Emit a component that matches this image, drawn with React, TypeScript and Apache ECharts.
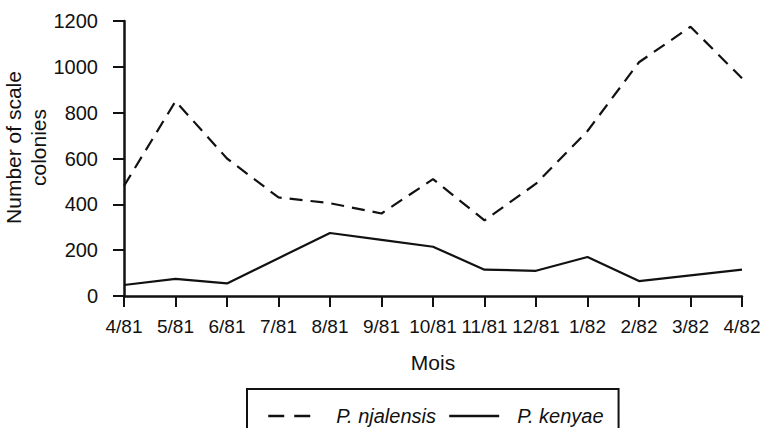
import React, { useEffect, useRef } from "react";
import * as echarts from "echarts";

const months = ["4/81", "5/81", "6/81", "7/81", "8/81", "9/81", "10/81", "11/81", "12/81", "1/82", "2/82", "3/82", "4/82"];
const njalensis = [480, 850, 600, 430, 405, 360, 510, 330, 490, 720, 1020, 1175, 950];
const kenyae = [48, 75, 55, 165, 275, 245, 215, 115, 110, 170, 65, 90, 115];
const yTicks = { min: 0, max: 1200, interval: 200 };

const FONT = "'Liberation Sans', Arial, Helvetica, sans-serif";
const INK = "#111";

export default function App() {
  const ref = useRef<HTMLDivElement>(null);
  useEffect(() => {
    if (!ref.current) return;
    const chart = echarts.init(ref.current, undefined, { renderer: "svg" });
    chart.setOption({
      animation: false,
      backgroundColor: "#fff",
      textStyle: { fontFamily: FONT, color: INK },
      grid: {
        left: 124,
        right: 18,
        top: 21,
        bottom: 132,
        containLabel: false,
        outerBoundsMode: "none",
      },
      legend: {
        left: 247,
        top: 389,
        itemWidth: 50,
        itemHeight: 14,
        itemGap: 12,
        padding: [17, 15, 20, 20],
        borderColor: INK,
        borderWidth: 2,
        itemStyle: { opacity: 0 },
        textStyle: {
          fontFamily: FONT,
          fontSize: 20,
          fontStyle: "italic",
          color: INK,
          lineHeight: 20,
          padding: [0, 0, 0, 13],
        },
        data: [
          { name: "P. njalensis", lineStyle: { color: INK, width: 2.5, type: [16, 10] } },
          { name: "P. kenyae", lineStyle: { color: INK, width: 2.5, type: "solid" } },
        ],
      },
      xAxis: {
        type: "category",
        data: months,
        boundaryGap: false,
        name: "Mois",
        nameLocation: "middle",
        nameGap: 56,
        nameTextStyle: { fontFamily: FONT, fontSize: 21, color: INK },
        axisLine: { lineStyle: { color: INK, width: 2.5 } },
        axisTick: { length: 11, alignWithLabel: true, lineStyle: { color: INK, width: 2 } },
        axisLabel: { fontFamily: FONT, fontSize: 19, color: INK, margin: 21, interval: 0 },
        splitLine: { show: false },
      },
      yAxis: {
        type: "value",
        min: yTicks.min,
        max: yTicks.max,
        interval: yTicks.interval,
        name: "Number of scale\ncolonies",
        nameLocation: "middle",
        nameGap: 73,
        nameMoveOverlap: false,
        nameTextStyle: {
          fontFamily: FONT,
          fontSize: 21,
          color: INK,
          lineHeight: 25,
          padding: [0, 0, 0, 22],
        },
        axisLine: { show: true, lineStyle: { color: INK, width: 2.5 } },
        axisTick: { show: true, length: 11, lineStyle: { color: INK, width: 2 } },
        axisLabel: {
          fontFamily: FONT,
          fontSize: 20,
          color: INK,
          margin: 26,
          formatter: (v: number) => String(v),
        },
        splitLine: { show: false },
      },
      series: [
        {
          name: "P. njalensis",
          type: "line",
          data: njalensis,
          symbol: "none",
          lineStyle: { color: INK, width: 2.2, type: [13, 8] },
          itemStyle: { color: INK },
        },
        {
          name: "P. kenyae",
          type: "line",
          data: kenyae,
          symbol: "none",
          lineStyle: { color: INK, width: 2.2, type: "solid" },
          itemStyle: { color: INK },
        },
      ],
    });
    return () => chart.dispose();
  }, []);
  return (
    <div
      ref={ref}
      style={{ position: "fixed", left: 0, top: 0, width: 760, height: 428, background: "#fff" }}
    />
  );
}
